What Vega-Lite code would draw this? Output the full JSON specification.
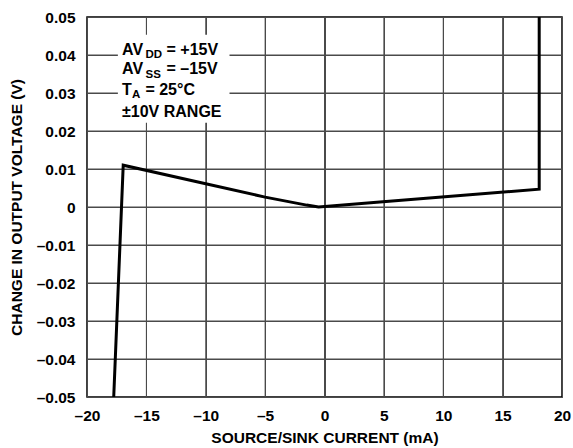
{
  "$schema": "https://vega.github.io/schema/vega-lite/v6.json",
  "width": 475,
  "height": 380,
  "autosize": "none",
  "padding": {"left": 87, "top": 17, "right": 11, "bottom": 51},
  "background": "white",
  "config": {
    "view": {"stroke": "black", "strokeWidth": 1.5},
    "font": "Liberation Sans"
  },
  "resolve": {"axis": {"x": "independent", "y": "independent"}},
  "datasets": {
    "curve": [
      {"x": -17.75, "y": -0.05},
      {"x": -16.95, "y": 0.011},
      {"x": -10, "y": 0.0061},
      {"x": -5, "y": 0.0026},
      {"x": -1.5, "y": 0.0005},
      {"x": -0.5, "y": 0.0},
      {"x": 4.66, "y": 0.00132},
      {"x": 18.08, "y": 0.0047},
      {"x": 18.08, "y": 0.05}
    ],
    "vgrid": [{"x": -15}, {"x": -10}, {"x": -5}, {"x": 0}, {"x": 5}, {"x": 10}, {"x": 15}],
    "hgrid": [{"y": -0.04}, {"y": -0.03}, {"y": -0.02}, {"y": -0.01}, {"y": 0}, {"y": 0.01}, {"y": 0.02}, {"y": 0.03}, {"y": 0.04}],
    "box": [{"x": -17.4, "x2": -8.0, "y": 0.03375}],
    "notes": [
      {"x": -17.05, "y": 0.04, "t": "AV", "part": "main"},
      {"x": -17.05, "y": 0.0349, "t": "AV", "part": "main"},
      {"x": -17.05, "y": 0.0296, "t": "T", "part": "main"},
      {"x": -17.05, "y": 0.0238, "t": "±10V RANGE", "part": "main"},
      {"x": -17.05, "y": 0.04, "t": "DD", "part": "sub12"},
      {"x": -17.05, "y": 0.0349, "t": "SS", "part": "sub12"},
      {"x": -17.05, "y": 0.04, "t": "= +15V", "part": "rest12"},
      {"x": -17.05, "y": 0.0349, "t": "= –15V", "part": "rest12"},
      {"x": -17.05, "y": 0.0296, "t": "A", "part": "sub3"},
      {"x": -17.05, "y": 0.0296, "t": "= 25°C", "part": "rest3"}
    ]
  },
  "layer": [
    {
      "data": {"name": "curve"},
      "mark": {"type": "line", "color": "black", "strokeWidth": 3, "clip": true, "opacity": 0},
      "encoding": {
        "x": {
          "field": "x", "type": "quantitative",
          "title": "SOURCE/SINK CURRENT (mA)",
          "scale": {"domain": [-20, 20], "nice": false, "zero": false},
          "axis": {
            "values": [-20, -15, -10, -5, 0, 5, 10, 15, 20],
            "grid": true,
            "gridColor": "#4a4a4a",
            "gridWidth": 1,
            "domain": false,
            "ticks": false,
            "labelOverlap": false,
            "labelFlush": false,
            "labelFont": "Liberation Sans",
            "labelFontSize": 15.5,
            "labelFontWeight": "bold",
            "labelColor": "black",
            "titleFont": "Liberation Sans",
            "titleFontSize": 15.5,
            "titleFontWeight": "bold",
            "titleColor": "black",
            "labelExpr": "datum.value < 0 ? '–' + (-datum.value) : '' + datum.value",
            "labelPadding": 11,
            "titlePadding": 7
          }
        },
        "y": {
          "field": "y", "type": "quantitative",
          "title": "CHANGE IN OUTPUT VOLTAGE (V)",
          "scale": {"domain": [-0.05, 0.05], "nice": false, "zero": false},
          "axis": {
            "values": [-0.05, -0.04, -0.03, -0.02, -0.01, 0, 0.01, 0.02, 0.03, 0.04, 0.05],
            "grid": true,
            "gridColor": "#4a4a4a",
            "gridWidth": 1,
            "domain": false,
            "ticks": false,
            "labelOverlap": false,
            "labelFlush": false,
            "labelFont": "Liberation Sans",
            "labelFontSize": 15.5,
            "labelFontWeight": "bold",
            "labelColor": "black",
            "titleFont": "Liberation Sans",
            "titleFontSize": 15.5,
            "titleFontWeight": "bold",
            "titleColor": "black",
            "labelExpr": "abs(datum.value) < 1e-9 ? '0' : (datum.value < 0 ? '–' + format(-datum.value, '.2f') : format(datum.value, '.2f'))",
            "labelPadding": 12,
            "titlePadding": 12
          }
        }
      }
    },
    {
      "data": {"name": "vgrid"},
      "mark": {"type": "rule", "color": "#4a4a4a", "strokeWidth": 1},
      "encoding": {
        "x": {"field": "x", "type": "quantitative", "axis": null}
      }
    },
    {
      "data": {"name": "hgrid"},
      "mark": {"type": "rule", "color": "#4a4a4a", "strokeWidth": 1},
      "encoding": {
        "y": {"field": "y", "type": "quantitative", "axis": null}
      }
    },
    {
      "data": {"name": "box"},
      "mark": {"type": "rule", "color": "white", "strokeWidth": 88, "strokeCap": "butt"},
      "encoding": {
        "x": {"field": "x", "type": "quantitative", "axis": null},
        "x2": {"field": "x2"},
        "y": {"field": "y", "type": "quantitative", "axis": null}
      }
    },
    {
      "data": {"name": "curve"},
      "mark": {"type": "line", "color": "black", "strokeWidth": 3, "clip": true, "strokeJoin": "miter"},
      "encoding": {
        "x": {"field": "x", "type": "quantitative", "axis": null},
        "y": {"field": "y", "type": "quantitative", "axis": null}
      }
    },
    {
      "data": {"name": "notes"},
      "transform": [{"filter": "datum.part == 'main'"}],
      "mark": {"type": "text", "align": "left", "baseline": "alphabetic", "fontSize": 16, "fontWeight": "bold", "color": "black"},
      "encoding": {
        "x": {"field": "x", "type": "quantitative", "axis": null},
        "y": {"field": "y", "type": "quantitative", "axis": null},
        "text": {"field": "t"}
      }
    },
    {
      "data": {"name": "notes"},
      "transform": [{"filter": "datum.part == 'sub12'"}],
      "mark": {"type": "text", "align": "left", "baseline": "alphabetic", "fontSize": 11.5, "fontWeight": "bold", "color": "black", "dx": 23.5, "dy": 3.4},
      "encoding": {
        "x": {"field": "x", "type": "quantitative", "axis": null},
        "y": {"field": "y", "type": "quantitative", "axis": null},
        "text": {"field": "t"}
      }
    },
    {
      "data": {"name": "notes"},
      "transform": [{"filter": "datum.part == 'rest12'"}],
      "mark": {"type": "text", "align": "left", "baseline": "alphabetic", "fontSize": 16, "fontWeight": "bold", "color": "black", "dx": 44.5},
      "encoding": {
        "x": {"field": "x", "type": "quantitative", "axis": null},
        "y": {"field": "y", "type": "quantitative", "axis": null},
        "text": {"field": "t"}
      }
    },
    {
      "data": {"name": "notes"},
      "transform": [{"filter": "datum.part == 'sub3'"}],
      "mark": {"type": "text", "align": "left", "baseline": "alphabetic", "fontSize": 11.5, "fontWeight": "bold", "color": "black", "dx": 10, "dy": 3.4},
      "encoding": {
        "x": {"field": "x", "type": "quantitative", "axis": null},
        "y": {"field": "y", "type": "quantitative", "axis": null},
        "text": {"field": "t"}
      }
    },
    {
      "data": {"name": "notes"},
      "transform": [{"filter": "datum.part == 'rest3'"}],
      "mark": {"type": "text", "align": "left", "baseline": "alphabetic", "fontSize": 16, "fontWeight": "bold", "color": "black", "dx": 23.4},
      "encoding": {
        "x": {"field": "x", "type": "quantitative", "axis": null},
        "y": {"field": "y", "type": "quantitative", "axis": null},
        "text": {"field": "t"}
      }
    }
  ]
}
